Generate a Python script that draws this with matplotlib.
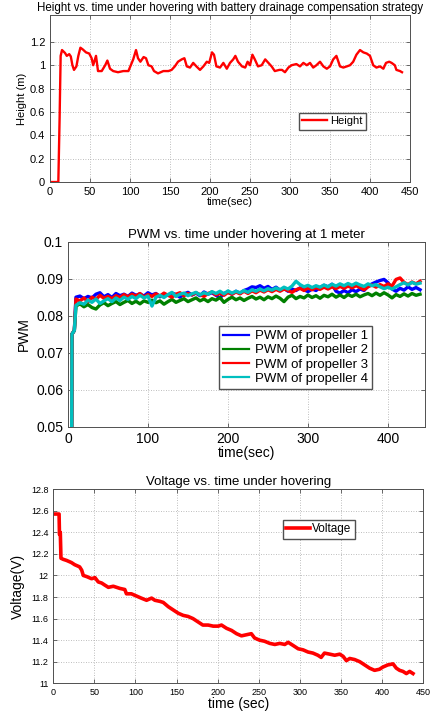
import numpy as np
import matplotlib
matplotlib.use('Agg')
import matplotlib.pyplot as plt

plt.rcParams['font.family'] = ['Liberation Sans', 'DejaVu Sans']

# ---- height data (time in s, height in m)
t_h = [0, 10.4, 12, 13.3, 15, 18.75, 21, 24, 26, 28, 30, 33, 35.4, 38, 41, 45, 49, 52, 54,
       57.5, 60, 64.6, 69, 71.7, 75, 79, 85, 91.7, 98, 101, 104, 107.5, 110, 113, 117, 120,
       123, 127, 130, 135, 141.7, 148, 152, 156, 160, 164.6, 168, 171, 175, 179, 183, 187.5,
       191.7, 196, 199, 202.5, 205, 208, 212.5, 216.7, 221, 225, 229, 231.7, 235, 240, 244,
       247, 250, 253, 256, 260, 264.6, 269, 273, 277, 281, 286.7, 290, 293.7, 298, 302, 308,
       312.5, 316.7, 321, 325, 329, 333, 337.5, 341.7, 346, 350, 354, 358, 362.5, 366.7, 371,
       375, 379, 383, 387.5, 391.7, 396, 400, 404, 408, 412.5, 416.7, 420, 424, 427, 431,
       433, 437.5, 440]
height = [0, 0, 0.55, 1.08, 1.13, 1.105, 1.08, 1.095, 1.075, 1.0, 0.96, 0.99, 1.08, 1.15,
          1.135, 1.11, 1.10, 1.06, 1.0, 1.08, 0.95, 0.95, 1.0, 1.04, 0.97, 0.95, 0.94, 0.95,
          0.95, 1.0, 1.05, 1.13, 1.06, 1.03, 1.07, 1.06, 1.0, 0.99, 0.95, 0.93, 0.95, 0.95,
          0.96, 0.99, 1.03, 1.05, 1.06, 0.99, 0.98, 1.02, 0.99, 0.96, 0.99, 1.03, 1.02, 1.11,
          1.09, 0.99, 0.98, 1.02, 0.97, 1.02, 1.05, 1.08, 1.03, 0.99, 0.98, 1.03, 1.0, 1.09,
          1.05, 0.99, 1.0, 1.05, 1.02, 0.99, 0.95, 0.96, 0.96, 0.94, 0.98, 1.0, 1.01, 0.99,
          1.02, 1.0, 1.02, 0.98, 1.0, 1.03, 0.99, 0.97, 0.99, 1.05, 1.08, 0.99, 0.98, 0.99,
          1.0, 1.03, 1.09, 1.13, 1.11, 1.10, 1.08, 1.0, 0.98, 0.99, 0.97, 1.02, 1.03, 1.02,
          1.0, 0.96, 0.95, 0.94]

# ---- PWM data: start-up samples then every 5 s from 10 to 440 s
t_pwm_start = [4.6, 5.0, 8.0]
pwm_start = [0.045, 0.075, 0.076]
t_pwm_main = np.arange(10, 441, 5)

pwm1 = [0.0850, 0.0853, 0.0846, 0.0852, 0.0848, 0.0858, 0.0862, 0.0851, 0.0857, 0.0849,
        0.0860, 0.0854, 0.0858, 0.0852, 0.0861, 0.0855, 0.0859, 0.0853, 0.0862, 0.0856,
        0.0860, 0.0851, 0.0858, 0.0855, 0.0861, 0.0857, 0.0850, 0.0859, 0.0863, 0.0856,
        0.0861, 0.0854, 0.0864, 0.0858, 0.0862, 0.0855, 0.0848, 0.0860, 0.0864, 0.0858,
        0.0866, 0.0860, 0.0868, 0.0872, 0.0878, 0.0876, 0.0881, 0.0874, 0.0879, 0.0871,
        0.0877, 0.0869, 0.0874, 0.0866, 0.0872, 0.0868, 0.0875, 0.0870, 0.0865, 0.0872,
        0.0868, 0.0876, 0.0882, 0.0878, 0.0885, 0.0866, 0.0861, 0.0868, 0.0862, 0.0870,
        0.0865, 0.0872, 0.0868, 0.0880, 0.0886, 0.0891, 0.0895, 0.0898, 0.0889, 0.0872,
        0.0866, 0.0874, 0.0869, 0.0878, 0.0871, 0.0876, 0.0870]
pwm2 = [0.0826, 0.0832, 0.0824, 0.0830, 0.0822, 0.0818, 0.0829, 0.0835, 0.0827, 0.0833,
        0.0838, 0.0830, 0.0836, 0.0841, 0.0833, 0.0839, 0.0832, 0.0840, 0.0836, 0.0842,
        0.0835, 0.0840, 0.0831, 0.0838, 0.0844, 0.0836, 0.0841, 0.0846, 0.0838, 0.0843,
        0.0848, 0.0840, 0.0845, 0.0838, 0.0846, 0.0842, 0.0849, 0.0836, 0.0844, 0.0850,
        0.0843, 0.0848, 0.0841, 0.0847, 0.0852, 0.0845, 0.0850, 0.0843, 0.0851, 0.0846,
        0.0853, 0.0847, 0.0838, 0.0850, 0.0855, 0.0846, 0.0852, 0.0848, 0.0856, 0.0849,
        0.0854, 0.0847, 0.0855, 0.0851, 0.0858, 0.0850, 0.0856, 0.0849, 0.0857, 0.0852,
        0.0858, 0.0851, 0.0856, 0.0860, 0.0854, 0.0861, 0.0855, 0.0862, 0.0856, 0.0848,
        0.0857, 0.0852, 0.0859, 0.0853, 0.0860, 0.0855, 0.0858]
pwm3 = [0.0845, 0.0840, 0.0848, 0.0838, 0.0850, 0.0844, 0.0855, 0.0847, 0.0852, 0.0846,
        0.0854, 0.0849, 0.0857, 0.0851, 0.0858, 0.0853, 0.0860, 0.0850, 0.0857, 0.0852,
        0.0859, 0.0853, 0.0861, 0.0855, 0.0850, 0.0858, 0.0862, 0.0854, 0.0860, 0.0856,
        0.0862, 0.0857, 0.0852, 0.0860, 0.0864, 0.0856, 0.0861, 0.0855, 0.0863, 0.0858,
        0.0864, 0.0859, 0.0866, 0.0860, 0.0867, 0.0862, 0.0869, 0.0864, 0.0870, 0.0865,
        0.0871, 0.0866, 0.0872, 0.0868, 0.0863, 0.0870, 0.0874, 0.0868, 0.0875, 0.0870,
        0.0876, 0.0871, 0.0877, 0.0872, 0.0878, 0.0873, 0.0879, 0.0874, 0.0880, 0.0875,
        0.0881, 0.0876, 0.0870, 0.0878, 0.0883, 0.0877, 0.0884, 0.0879, 0.0886, 0.0880,
        0.0898, 0.0902, 0.0890, 0.0884, 0.0891, 0.0886, 0.0893]
pwm4 = [0.0828, 0.0835, 0.0831, 0.0842, 0.0836, 0.0845, 0.0833, 0.0840, 0.0846, 0.0838,
        0.0848, 0.0841, 0.0850, 0.0844, 0.0852, 0.0846, 0.0855, 0.0848, 0.0853, 0.0826,
        0.0850, 0.0855, 0.0849, 0.0857, 0.0863, 0.0852, 0.0858, 0.0861, 0.0854, 0.0859,
        0.0863, 0.0856, 0.0862, 0.0858, 0.0865, 0.0860, 0.0866, 0.0859, 0.0867, 0.0861,
        0.0866, 0.0862, 0.0868, 0.0863, 0.0870, 0.0866, 0.0872, 0.0867, 0.0873, 0.0869,
        0.0875, 0.0870, 0.0877, 0.0872, 0.0880, 0.0893, 0.0884, 0.0878, 0.0882, 0.0876,
        0.0881, 0.0877, 0.0883, 0.0878, 0.0885, 0.0880, 0.0886, 0.0881, 0.0887, 0.0882,
        0.0888, 0.0883, 0.0879, 0.0886, 0.0881, 0.0884, 0.0878, 0.0873, 0.0877, 0.0872,
        0.0878, 0.0884, 0.0889, 0.0883, 0.0890, 0.0885, 0.0888]

# ---- voltage data
t_v = [2, 7, 7.5, 8.5, 9.3, 12, 16, 22, 26, 32, 34.5, 36.5, 40.5, 46.6, 50.7, 54.7, 58.8,
       62.8, 67, 73, 81, 87, 89, 95, 101, 107, 113.5, 119.6, 123.6, 129.7, 133.8, 140, 146,
       152, 158, 164, 170, 176, 182, 188.5, 194.6, 200.7, 204.7, 210.8, 217, 223, 229, 235,
       241, 245, 251, 257, 263.5, 269.6, 275.6, 281.7, 285.8, 292, 298, 304, 310, 316, 322,
       326, 330, 336.5, 342.5, 348.6, 352.7, 356.7, 360.8, 366.8, 373, 379, 385, 391, 397,
       401, 407, 413.5, 417.5, 421.5, 425.6, 429.7, 433.7, 437.8]
voltage = [12.57, 12.57, 12.38, 12.40, 12.16, 12.15, 12.14, 12.12, 12.10, 12.08, 12.05,
           12.0, 11.99, 11.97, 11.98, 11.94, 11.93, 11.91, 11.89, 11.90, 11.88, 11.87, 11.83,
           11.83, 11.81, 11.79, 11.77, 11.79, 11.77, 11.76, 11.75, 11.71, 11.68, 11.65, 11.63,
           11.62, 11.60, 11.57, 11.54, 11.54, 11.53, 11.53, 11.54, 11.51, 11.49, 11.46, 11.44,
           11.45, 11.46, 11.42, 11.40, 11.39, 11.37, 11.36, 11.37, 11.36, 11.38, 11.35, 11.32,
           11.31, 11.29, 11.28, 11.26, 11.24, 11.28, 11.27, 11.26, 11.27, 11.25, 11.21, 11.23,
           11.22, 11.20, 11.17, 11.14, 11.12, 11.13, 11.15, 11.17, 11.18, 11.14, 11.12, 11.11,
           11.09, 11.11, 11.09]

grid_kw = dict(color='#a8a8a8', linestyle=(0, (1, 2)), linewidth=0.6)
spine_col = '#505050'


def style(ax, fs):
    ax.grid(True, **grid_kw)
    ax.set_axisbelow(True)
    ax.tick_params(direction='in', top=True, right=True, labelsize=fs, length=3,
                   width=0.6, colors=spine_col, labelcolor='black')
    for s in ax.spines.values():
        s.set_color(spine_col)
        s.set_linewidth(0.7)


fig = plt.figure(figsize=(4.3, 7.11), dpi=100)

# ---- plot 1
ax1 = fig.add_axes([0.1163, 0.744, 0.8372, 0.2349])
ax1.plot(t_h, height, color='red', linewidth=1.7, label='Height')
ax1.set_xlim(0, 450)
ax1.set_ylim(0, 1.43)
ax1.set_xticks(np.arange(0, 451, 50))
ax1.set_yticks([0, 0.2, 0.4, 0.6, 0.8, 1.0, 1.2])
ax1.set_yticklabels(['0', '0.2', '0.4', '0.6', '0.8', '1', '1.2'])
style(ax1, 8)
ax1.set_title('Height vs. time under hovering with battery drainage compensation strategy',
              fontsize=8.3, pad=3)
ax1.set_xlabel('time(sec)', fontsize=8, labelpad=0)
ax1.set_ylabel('Height (m)', fontsize=8, labelpad=2)
ax1.legend(loc='upper left', bbox_to_anchor=(0.692, 0.413), borderaxespad=0, fontsize=8,
           fancybox=False, edgecolor=spine_col, framealpha=1, handlelength=2.2,
           handletextpad=0.3, borderpad=0.3)

# ---- plot 2
ax2 = fig.add_axes([0.158, 0.3999, 0.830, 0.2602])
colors = ['blue', 'green', 'red', (0, 0.75, 0.75)]
for i, p in enumerate([pwm1, pwm2, pwm3, pwm4]):
    tt = list(t_pwm_start) + list(t_pwm_main)
    yy = list(pwm_start) + list(p)
    ax2.plot(tt, yy, color=colors[i], linewidth=2.4,
             label='PWM of propeller %d' % (i + 1))
ax2.set_xlim(0, 446)
ax2.set_ylim(0.05, 0.1)
ax2.set_xticks([0, 100, 200, 300, 400])
ax2.set_yticks([0.05, 0.06, 0.07, 0.08, 0.09, 0.1])
ax2.set_yticklabels(['0.05', '0.06', '0.07', '0.08', '0.09', '0.1'])
style(ax2, 10)
ax2.set_title('PWM vs. time under hovering at 1 meter', fontsize=9.5, pad=3)
ax2.set_xlabel('time(sec)', fontsize=10, labelpad=0)
ax2.set_ylabel('PWM', fontsize=10, labelpad=4)
leg2 = ax2.legend(loc='upper left', bbox_to_anchor=(0.423, 0.544), borderaxespad=0,
                  fontsize=9.5, fancybox=False, edgecolor=spine_col, framealpha=1,
                  handlelength=2.0, handletextpad=0.4, borderpad=0.3, labelspacing=0.15)
for ln in leg2.get_lines():
    ln.set_linewidth(1.6)

# ---- plot 3
ax3 = fig.add_axes([0.124, 0.039, 0.8598, 0.2729])
ax3.plot(t_v, voltage, color='red', linewidth=2.6, label='Voltage')
ax3.set_xlim(0, 450)
ax3.set_ylim(11, 12.8)
ax3.set_xticks(np.arange(0, 451, 50))
ax3.set_yticks([11, 11.2, 11.4, 11.6, 11.8, 12, 12.2, 12.4, 12.6, 12.8])
ax3.set_yticklabels(['11', '11.2', '11.4', '11.6', '11.8', '12', '12.2', '12.4', '12.6', '12.8'])
style(ax3, 6.5)
ax3.set_title('Voltage vs. time under hovering', fontsize=9.5, pad=3)
ax3.set_xlabel('time (sec)', fontsize=10, labelpad=0)
ax3.set_ylabel('Voltage(V)', fontsize=10, labelpad=4)
ax3.legend(loc='upper left', bbox_to_anchor=(0.621, 0.842), borderaxespad=0, fontsize=8.5,
           fancybox=False, edgecolor=spine_col, framealpha=1, handlelength=2.0,
           handletextpad=0.2, borderpad=0.3)

fig.savefig('out.png', dpi=100)
